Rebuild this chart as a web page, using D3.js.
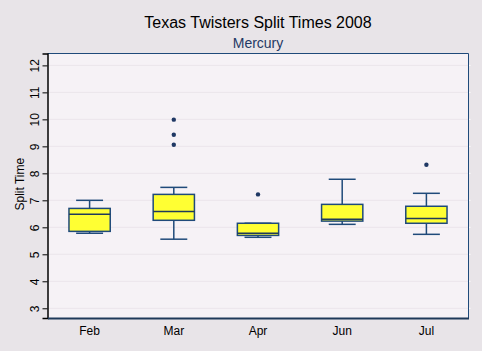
<!DOCTYPE html>
<html><head><meta charset="utf-8">
<script src="https://cdn.jsdelivr.net/npm/d3@7"></script>
<style>body{margin:0;background:#e8e4e8;}svg{display:block;}</style>
</head><body>
<script>
const categories = ["Feb","Mar","Apr","Jun","Jul"];
const whiskerLow  = [5.78, 5.56, 5.63, 6.11, 5.74];
const q1          = [5.85, 6.26, 5.70, 6.23, 6.15];
const median      = [6.48, 6.59, 5.78, 6.30, 6.33];
const q3          = [6.70, 7.22, 6.15, 6.85, 6.78];
const whiskerHigh = [7.00, 7.48, 6.15, 7.78, 7.26];
const outliers    = [[], [9.06, 9.43, 9.99], [7.22], [], [8.32]];
const yTicks = [3,4,5,6,7,8,9,10,11,12];

const W = 482, H = 351;
const m = {left: 47.5, right: 468.5, top: 53.5, bottom: 318};
const svg = d3.select("body").append("svg").attr("width", W).attr("height", H);
svg.append("rect").attr("width", W).attr("height", H).attr("fill", "#e8e4e8");

const x = d3.scaleBand().domain(categories).range([m.left, m.right]).padding(0);
const y = d3.scaleLinear().domain([2.64, 12.44]).range([m.bottom, m.top]);

svg.append("rect").attr("x", m.left).attr("y", m.top)
  .attr("width", m.right - m.left).attr("height", m.bottom - m.top).attr("fill", "#f6f2f6");

// grid
svg.append("g").selectAll("line").data(yTicks).join("line")
  .attr("x1", m.left).attr("x2", m.right)
  .attr("y1", d => y(d)).attr("y2", d => y(d))
  .attr("stroke", "#ebe5eb").attr("stroke-width", 1);

// right white ticks
svg.append("g").selectAll("line").data(yTicks).join("line")
  .attr("x1", m.right).attr("x2", m.right + 2)
  .attr("y1", d => y(d)).attr("y2", d => y(d))
  .attr("stroke", "#ffffff").attr("stroke-width", 1);

// frame top/right
svg.append("line").attr("x1", m.left).attr("x2", m.right).attr("y1", m.top).attr("y2", m.top)
  .attr("stroke", "#1f4a7a").attr("stroke-width", 1);
svg.append("line").attr("x1", m.right).attr("x2", m.right).attr("y1", m.top).attr("y2", m.bottom)
  .attr("stroke", "#1f4a7a").attr("stroke-width", 1);

// y axis
const yAxis = svg.append("g").attr("transform", `translate(${m.left},0)`)
  .call(d3.axisLeft(y).tickValues(yTicks).tickSize(5).tickPadding(8));
yAxis.select(".domain").attr("stroke", "#000").attr("stroke-width", 1.5);
yAxis.selectAll(".tick line").attr("stroke", "#000");
yAxis.selectAll(".tick text")
  .attr("font-family", "Liberation Sans, Arial, sans-serif").attr("font-size", 12).attr("fill", "#000")
  .attr("transform", function(){ return null; })
  .each(function(){
    const t = d3.select(this);
    t.attr("x", null).attr("dy", null).attr("text-anchor", "middle")
     .attr("transform", "translate(-13,0) rotate(-90)").attr("dy", "0.35em");
  });

// bottom axis
const xAxis = svg.append("g").attr("transform", `translate(0,${m.bottom})`)
  .call(d3.axisBottom(x).tickSize(0).tickPadding(8));
xAxis.select(".domain").attr("stroke", "#1f3a5a").attr("stroke-width", 2);
xAxis.selectAll(".tick text").attr("font-family", "Liberation Sans, Arial, sans-serif")
  .attr("font-size", 12).attr("fill", "#000").attr("dy", "0.71em");

// boxes
const bw = x.bandwidth() * 0.49, cw = x.bandwidth() * 0.32;
const stroke = "#1f4a7a";
const g = svg.append("g");
categories.forEach((c, i) => {
  const cx = x(c) + x.bandwidth() / 2;
  const gg = g.append("g");
  gg.append("line").attr("x1", cx).attr("x2", cx).attr("y1", y(whiskerHigh[i])).attr("y2", y(q3[i]))
    .attr("stroke", stroke).attr("stroke-width", 1.5);
  gg.append("line").attr("x1", cx).attr("x2", cx).attr("y1", y(q1[i])).attr("y2", y(whiskerLow[i]))
    .attr("stroke", stroke).attr("stroke-width", 1.5);
  gg.append("line").attr("x1", cx - cw/2).attr("x2", cx + cw/2).attr("y1", y(whiskerHigh[i])).attr("y2", y(whiskerHigh[i]))
    .attr("stroke", stroke).attr("stroke-width", 1.5);
  gg.append("line").attr("x1", cx - cw/2).attr("x2", cx + cw/2).attr("y1", y(whiskerLow[i])).attr("y2", y(whiskerLow[i]))
    .attr("stroke", stroke).attr("stroke-width", 1.5);
  gg.append("rect").attr("x", cx - bw/2).attr("y", y(q3[i])).attr("width", bw).attr("height", y(q1[i]) - y(q3[i]))
    .attr("fill", "#ffff33").attr("stroke", stroke).attr("stroke-width", 1.5);
  gg.append("line").attr("x1", cx - bw/2).attr("x2", cx + bw/2).attr("y1", y(median[i])).attr("y2", y(median[i]))
    .attr("stroke", "#1f3a5a").attr("stroke-width", 1.5);
  gg.selectAll("circle").data(outliers[i]).join("circle")
    .attr("cx", cx).attr("cy", d => y(d)).attr("r", 2.2).attr("fill", "#1f3864");
});

// titles
svg.append("text").attr("x", (m.left + m.right)/2).attr("y", 28).attr("text-anchor", "middle")
  .attr("font-family", "Liberation Sans, Arial, sans-serif").attr("font-size", 16).attr("fill", "#000")
  .text("Texas Twisters Split Times 2008");
svg.append("text").attr("x", (m.left + m.right)/2).attr("y", 48).attr("text-anchor", "middle")
  .attr("font-family", "Liberation Sans, Arial, sans-serif").attr("font-size", 14).attr("fill", "#1f3864")
  .text("Mercury");
svg.append("text").attr("transform", `translate(20,${y(7.6)}) rotate(-90)`).attr("text-anchor", "middle")
  .attr("dy", "0.35em")
  .attr("font-family", "Liberation Sans, Arial, sans-serif").attr("font-size", 12).attr("fill", "#000")
  .text("Split Time");
</script>
</body></html>
